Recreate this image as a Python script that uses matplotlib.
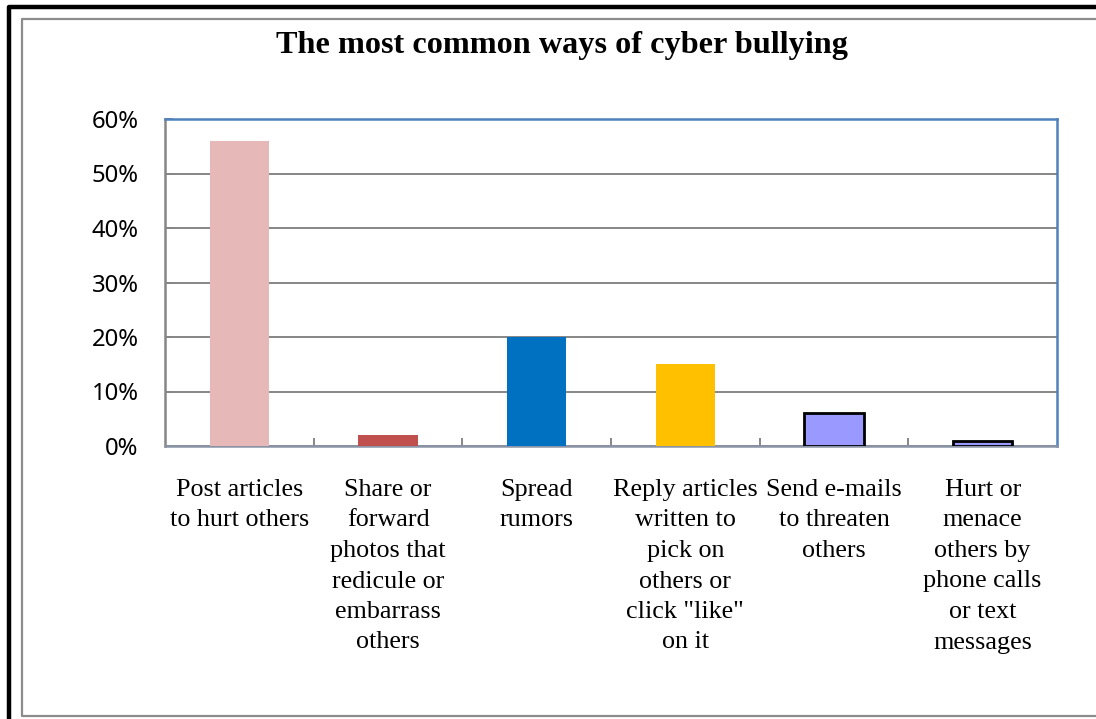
import matplotlib
matplotlib.use("Agg")
import matplotlib.pyplot as plt
from matplotlib.lines import Line2D
from matplotlib.ticker import FuncFormatter, FixedLocator

title = "The most common ways of cyber bullying"
categories = [
    "Post articles\nto hurt others",
    "Share or\nforward\nphotos that\nredicule or\nembarrass\nothers",
    "Spread\nrumors",
    "Reply articles\nwritten to\npick on\nothers or\nclick \"like\"\non it",
    "Send e-mails\nto threaten\nothers",
    "Hurt or\nmenace\nothers by\nphone calls\nor text\nmessages",
]
shares = [0.56, 0.02, 0.20, 0.15, 0.06, 0.01]
bar_colors = ["#E6B9B8", "#C0504D", "#0070C0", "#FFC000", "#9999FF", "#9999FF"]
bar_edges = [None, None, None, None, "black", "black"]
y_ticks = [0.0, 0.1, 0.2, 0.3, 0.4, 0.5, 0.6]

W, H = 1096, 719
fig = plt.figure(figsize=(W / 100, H / 100), dpi=100)

def fx(x):
    return x / W

def fy(y):
    return 1 - y / H

def px(x0, y0, x1, y1):
    return [x0 / W, 1 - y1 / H, (x1 - x0) / W, (y1 - y0) / H]

# outer black frame (left and top edges)
fig.add_artist(Line2D([fx(9), fx(9), 1.0], [0.0, fy(6.5), fy(6.5)],
                      color="black", linewidth=3.2, transform=fig.transFigure))
# inner grey frame (left, top and bottom edges)
fig.add_artist(Line2D([1.0, fx(22), fx(22), 1.0], [fy(19), fy(19), fy(716), fy(716)],
                      color="#8C8C8C", linewidth=1.6, transform=fig.transFigure))

ax = fig.add_axes(px(165, 119, 1057, 446))
for i, (v, c, e) in enumerate(zip(shares, bar_colors, bar_edges)):
    ax.bar(i, v, width=0.40, color=c,
           edgecolor=e if e else c, linewidth=2.0 if e else 0, zorder=3)

ax.set_xlim(-0.5, len(categories) - 0.5)
ax.set_ylim(0, 0.6)
ax.yaxis.set_major_locator(FixedLocator(y_ticks))
ax.yaxis.set_major_formatter(FuncFormatter(lambda v, p: f"{v * 100:.0f}%"))
ax.grid(axis="y", color="#868686", linewidth=1.4, zorder=0)

for s in ["top", "right"]:
    ax.spines[s].set_color("#4F81BD")
    ax.spines[s].set_linewidth(1.8)
ax.spines["left"].set_color("#868686")
ax.spines["left"].set_linewidth(1.8)
ax.spines["bottom"].set_color("#8A94A6")
ax.spines["bottom"].set_linewidth(1.8)

ax.set_xticks([i + 0.5 for i in range(len(categories) - 1)])
ax.set_xticklabels([])
ax.tick_params(axis="x", direction="in", length=6, width=1.4, color="#868686")
ax.tick_params(axis="y", direction="in", length=6, width=1.4, color="#868686",
               labelsize=17.2, pad=19)
for lab in ax.get_yticklabels():
    lab.set_fontfamily("Noto Sans")
    lab.set_fontweight("semibold")

for i, lab in enumerate(categories):
    ax.text(i, 1 - (479 - 119) / (446 - 119), lab, transform=ax.get_xaxis_transform(),
            ha="center", va="top", family="Liberation Serif", fontsize=18.8,
            linespacing=1.50)

fig.text(562 / W, 1 - 46 / H, title, ha="center", va="center",
         family="Liberation Serif", fontweight="bold", fontsize=23.2)

fig.savefig("out.png", dpi=100)
